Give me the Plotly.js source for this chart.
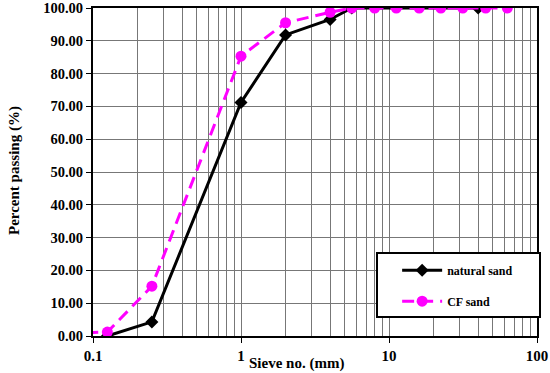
<!DOCTYPE html>
<html>
<head>
<meta charset="utf-8">
<script src="https://cdn.plot.ly/plotly-3.0.1.min.js"></script>
<style>html,body{margin:0;padding:0;background:#fff;}#chart{width:550px;height:373px;}</style>
</head>
<body>
<div id="chart"></div>
<script>
// Data
var naturalSieve = [0.125, 0.25, 1, 2, 4, 5.6, 40];
var naturalPassing = [0.0, 4.3, 71.2, 91.8, 96.5, 100, 100];
var cfSieve = [0.09, 0.125, 0.25, 1, 2, 4, 5.6, 8, 11.2, 16, 22.4, 31.5, 45, 63];
var cfPassing = [1.0, 1.2, 15.2, 85.3, 95.5, 98.7, 100, 100, 100, 100, 100, 100, 100, 100];
var xTickVals = [0.1, 1, 10, 100];
var xTickText = ['0.1', '1', '10', '100'];
var seriesNames = ['natural sand', 'CF sand'];

var FONT = 'Liberation Serif, Times New Roman, serif';
var minorVals = [];
[0.1, 1, 10].forEach(function (d) { for (var k = 2; k <= 9; k++) minorVals.push(d * k); });

var traces = [
  {
    x: naturalSieve, y: naturalPassing, name: seriesNames[0], legendgroup: 'a',
    type: 'scatter', mode: 'lines+markers', cliponaxis: true,
    line: {color: '#000000', width: 3},
    marker: {symbol: 'diamond', size: 10, color: '#000000'}
  },
  {
    x: cfSieve, y: cfPassing, name: seriesNames[1], legendgroup: 'b',
    type: 'scatter', mode: 'lines+markers', cliponaxis: true,
    line: {color: '#FF00FF', width: 3, dash: '12px,7px'},
    marker: {symbol: 'circle', size: 11, color: '#FF00FF'}
  }
];

var layout = {
  width: 550, height: 373,
  margin: {l: 93, r: 13, t: 8, b: 37},
  paper_bgcolor: '#ffffff', plot_bgcolor: '#ffffff',
  font: {family: FONT, color: '#000000'},
  showlegend: true,
  xaxis: {
    type: 'log', range: [-1, 2],
    tickvals: xTickVals, ticktext: xTickText,
    tickfont: {family: FONT, size: 15, weight: 'bold', color: '#000'},
    ticks: 'outside', ticklen: 5, tickwidth: 1, tickcolor: '#000',
    showgrid: true, gridcolor: '#777777', gridwidth: 1,
    minor: {tickvals: minorVals, showgrid: true, gridcolor: '#777777', gridwidth: 1, ticks: ''},
    showline: true, linecolor: '#000', linewidth: 2, mirror: true,
    zeroline: false, fixedrange: true
  },
  yaxis: {
    range: [0, 100], dtick: 10, tick0: 0, tickformat: '.2f',
    tickfont: {family: FONT, size: 14.5, weight: 'bold', color: '#000'},
    ticks: 'outside', ticklen: 5, tickwidth: 1, tickcolor: '#000',
    showgrid: true, gridcolor: '#777777', gridwidth: 1,
    showline: true, linecolor: '#000', linewidth: 2, mirror: true,
    zeroline: false, fixedrange: true
  },
  legend: {
    x: 0.685, y: 0.245, xanchor: 'left', yanchor: 'top',
    bgcolor: 'rgba(0,0,0,0)', borderwidth: 0,
    traceorder: 'grouped', tracegroupgap: 12, itemwidth: 40,
    font: {family: FONT, size: 12, weight: 'bold', color: '#000'}
  },
  shapes: [{
    type: 'rect', xref: 'paper', yref: 'paper', layer: 'above',
    x0: (377 - 93) / 444, x1: (540 - 93) / 444,
    y0: (336 - 317) / 328, y1: (336 - 253) / 328,
    line: {color: '#000', width: 2}, fillcolor: '#ffffff'
  }],
  annotations: [
    {
      text: 'Sieve no. (mm)', xref: 'paper', yref: 'paper',
      x: 0.459, y: -0.085, xanchor: 'center', yanchor: 'middle', showarrow: false,
      font: {family: FONT, size: 15, weight: 'bold', color: '#000'}
    },
    {
      text: 'Percent passing (%)', xref: 'paper', yref: 'paper', textangle: -90,
      x: -0.178, y: 0.506, xanchor: 'center', yanchor: 'middle', showarrow: false,
      font: {family: FONT, size: 15, weight: 'bold', color: '#000'}
    }
  ]
};

Plotly.newPlot('chart', traces, layout, {displayModeBar: false, staticPlot: true});
</script>
</body>
</html>
